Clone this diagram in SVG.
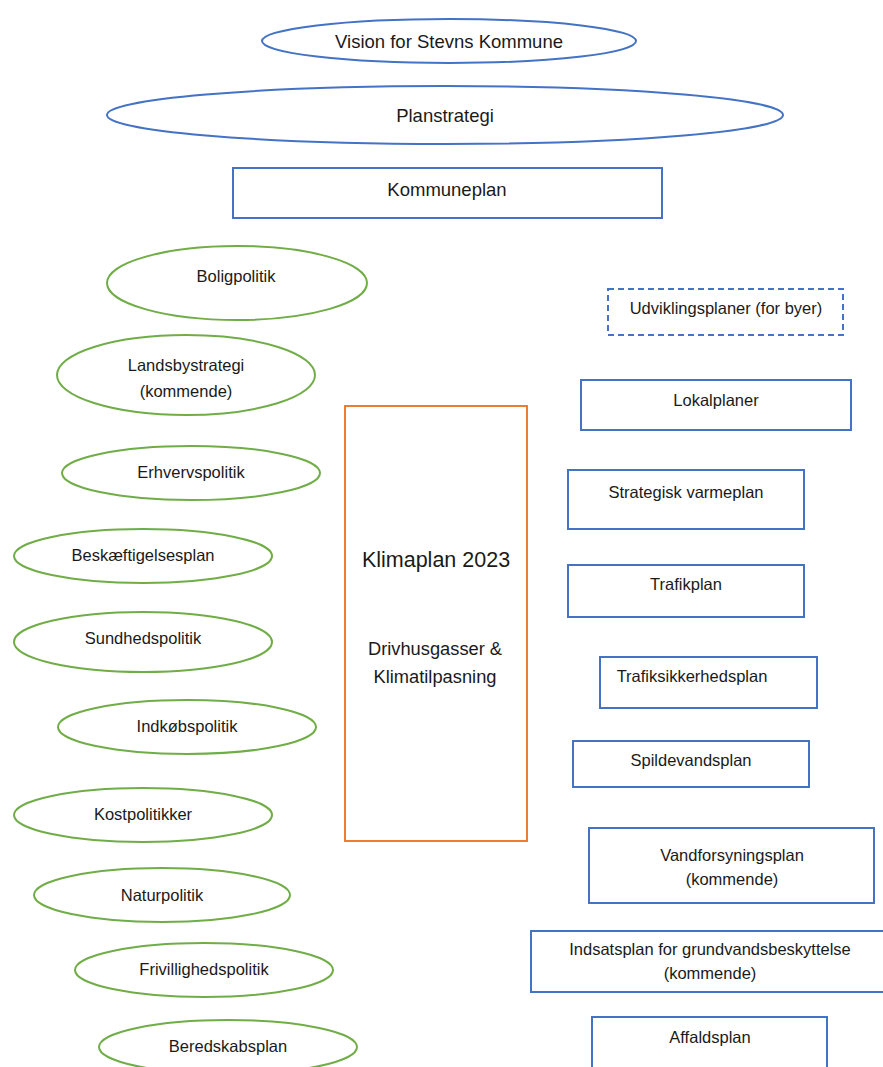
<svg xmlns="http://www.w3.org/2000/svg" width="883" height="1067" viewBox="0 0 883 1067">
<style>
.b{fill:#fff;stroke:#4472C4;stroke-width:2}
.d{fill:#fff;stroke:#4472C4;stroke-width:2;stroke-dasharray:6 4}
.g{fill:#fff;stroke:#70AD47;stroke-width:2}
.o{fill:#fff;stroke:#ED7D31;stroke-width:2}
text{font-family:"Liberation Sans",Arial,sans-serif;fill:#1a1a1a;text-anchor:middle;font-size:16.5px}
.l{font-size:18.5px}
.k{font-size:21.5px}
.m{font-size:18.3px}
</style>
<rect width="883" height="1067" fill="#fff"/>
<g id="vision"><ellipse class="b" cx="449" cy="41" rx="187" ry="22"/><text class="l" x="449" y="48">Vision for Stevns Kommune</text></g>
<g id="planstrategi"><ellipse class="b" cx="445" cy="115" rx="338" ry="29"/><text class="l" x="445" y="122">Planstrategi</text></g>
<g id="kommuneplan"><rect class="b" x="233" y="168" width="429" height="50"/><text class="l" x="447" y="196">Kommuneplan</text></g>

<g id="boligpolitik"><ellipse class="g" cx="237" cy="283" rx="130" ry="37"/><text x="236" y="282">Boligpolitik</text></g>
<g id="landsbystrategi"><ellipse class="g" cx="186" cy="375" rx="129" ry="40"/><text x="186" y="371">Landsbystrategi</text><text x="186" y="397">(kommende)</text></g>
<g id="erhvervspolitik"><ellipse class="g" cx="191" cy="473" rx="129" ry="27"/><text x="191" y="478">Erhvervspolitik</text></g>
<g id="beskaeftigelsesplan"><ellipse class="g" cx="143" cy="556" rx="129" ry="27"/><text x="143" y="561">Beskæftigelsesplan</text></g>
<g id="sundhedspolitik"><ellipse class="g" cx="143" cy="642" rx="129" ry="30"/><text x="143" y="644">Sundhedspolitik</text></g>
<g id="indkobspolitik"><ellipse class="g" cx="187" cy="727" rx="129" ry="27"/><text x="187" y="732">Indkøbspolitik</text></g>
<g id="kostpolitikker"><ellipse class="g" cx="143" cy="815" rx="129" ry="27"/><text x="143" y="820">Kostpolitikker</text></g>
<g id="naturpolitik"><ellipse class="g" cx="162" cy="895" rx="128" ry="27"/><text x="162" y="901">Naturpolitik</text></g>
<g id="frivillighedspolitik"><ellipse class="g" cx="204" cy="970" rx="129" ry="27"/><text x="204" y="975">Frivillighedspolitik</text></g>
<g id="beredskabsplan"><ellipse class="g" cx="228" cy="1047" rx="129" ry="27"/><text x="228" y="1052">Beredskabsplan</text></g>

<g id="klimaplan"><rect class="o" x="345" y="406" width="182" height="435"/><text class="k" x="436" y="567">Klimaplan  2023</text><text class="m" x="435" y="655">Drivhusgasser &amp;</text><text class="m" x="435" y="683">Klimatilpasning</text></g>

<g id="udviklingsplaner"><rect class="d" x="608" y="289" width="235" height="46"/><text x="726" y="314">Udviklingsplaner (for byer)</text></g>
<g id="lokalplaner"><rect class="b" x="581" y="380" width="270" height="50"/><text x="716" y="406">Lokalplaner</text></g>
<g id="varmeplan"><rect class="b" x="568" y="470" width="236" height="59"/><text x="686" y="498">Strategisk varmeplan</text></g>
<g id="trafikplan"><rect class="b" x="568" y="565" width="236" height="52"/><text x="686" y="590">Trafikplan</text></g>
<g id="trafiksikkerhedsplan"><rect class="b" x="600" y="657" width="217" height="51"/><text x="692" y="682">Trafiksikkerhedsplan</text></g>
<g id="spildevandsplan"><rect class="b" x="573" y="741" width="236" height="46"/><text x="691" y="766">Spildevandsplan</text></g>
<g id="vandforsyningsplan"><rect class="b" x="589" y="828" width="285" height="75"/><text x="732" y="861">Vandforsyningsplan</text><text x="732" y="885">(kommende)</text></g>
<g id="indsatsplan"><rect class="b" x="531" y="931" width="360" height="61"/><text x="710" y="955">Indsatsplan for grundvandsbeskyttelse</text><text x="710" y="979">(kommende)</text></g>
<g id="affaldsplan"><rect class="b" x="592" y="1017" width="235" height="70"/><text x="710" y="1043">Affaldsplan</text></g>
<g id="connectors"></g>
</svg>
